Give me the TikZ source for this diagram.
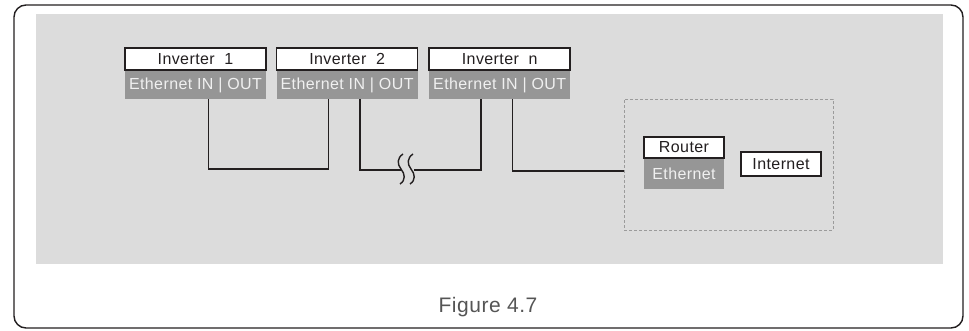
\documentclass[tikz,border=0pt]{standalone}
\usepackage{fontspec}
\setmainfont{Liberation Sans}
\newfontfamily\labelfont[LetterSpace=2.5]{Liberation Sans}
\usepackage{xcolor}
\definecolor{LineDark}{RGB}{35,31,32}
\definecolor{PanelGray}{RGB}{220,220,220}
\definecolor{PortGray}{RGB}{150,150,150}
\definecolor{PortText}{RGB}{240,240,240}
\definecolor{DashGray}{RGB}{155,155,155}
\definecolor{CaptionGray}{RGB}{85,85,85}
\usepackage{tikz}
\usetikzlibrary{positioning, calc}
\tikzset{
  % White name box on top of a device
  namebox/.style={
    rectangle, draw=LineDark, line width=1.6pt,
    fill=white, text=LineDark,
    minimum width=141pt, minimum height=22pt,
    inner sep=0pt,
    font=\labelfont\fontsize{16}{18}\selectfont
  },
  % Gray port bar below the name box
  portbar/.style={
    rectangle, fill=PortGray, text=PortText,
    minimum width=141pt, minimum height=28pt,
    inner sep=0pt,
    font=\labelfont\fontsize{16}{18}\selectfont
  },
  % Dashed frame round the router part
  lanbox/.style={
    rectangle, draw=DashGray, densely dashed, line width=0.6pt,
    minimum width=209pt, minimum height=131pt, inner sep=0pt
  },
  % Cable
  wire/.style={line width=1.5pt, LineDark},
}

\begin{document}
\begin{tikzpicture}[x=1pt, y=-1pt]
  \useasboundingbox (0,0) rectangle (969,330);

  %% Frame and panel
  \draw[LineDark, line width=1.4pt, rounded corners=12pt] (14,5) rectangle (963,328);
  \fill[PanelGray] (36,14) rectangle (943,264);

  %% Inverters
  \node[namebox] (inv1) at (195.5,59) {Inverter~~1};
  \node[portbar, below=0pt of inv1] (inv1port) {Ethernet IN | OUT};

  \node[namebox, right=9pt of inv1] (inv2) {Inverter~~2};
  \node[portbar, below=0pt of inv2] (inv2port) {Ethernet IN | OUT};

  \node[namebox, right=10pt of inv2] (invn) {Inverter~~n};
  \node[portbar, below=0pt of invn] (invnport) {Ethernet IN | OUT};

  %% Port points
  \coordinate (inv1out) at ($(inv1port.south west)+(83.5,0)$);
  \coordinate (inv2in)  at ($(inv2port.south west)+(52,0)$);
  \coordinate (inv2out) at ($(inv2port.south west)+(83.5,0)$);
  \coordinate (invnin)  at ($(invnport.south west)+(52,0)$);
  \coordinate (invnout) at ($(invnport.south west)+(83.5,0)$);

  %% Router part
  \node[lanbox] (lan) at (728.5,164.5) {};
  \node[namebox, minimum width=80pt, minimum height=21pt] (router) at (684,147.5) {Router};
  \node[portbar, minimum width=80pt, minimum height=30pt, below=0pt of router] (routerport) {Ethernet};
  \node[namebox, minimum width=80pt, minimum height=24pt] (internet) at (781,164) {Internet};

  %% Cables
  \coordinate (bus1) at (0,169);
  \coordinate (brk1) at (402,170);
  \coordinate (brk2) at (414,170);
  \coordinate (lanin) at ($(lan.west)+(0,6.5)$);

  \draw[wire] (inv1out) |- (inv2in |- bus1) -- (inv2in);
  \draw[wire] (inv2out) |- (brk1);
  \draw[wire] (brk2) -| (invnin);
  \draw[wire] (invnout) |- (lanin);

  %% Cable break
  \foreach \dx in {0,10}
    \draw[LineDark, line width=1.4pt]
      (403+\dx,154) .. controls (397+\dx,158) and (397+\dx,164) .. (401+\dx,169)
      .. controls (405+\dx,174) and (406+\dx,180) .. (400+\dx,184);

  %% Caption
  \node[font=\labelfont\fontsize{21}{24}\selectfont, text=CaptionGray] (caption) at (488,307) {Figure 4.7};

\end{tikzpicture}
\end{document}
